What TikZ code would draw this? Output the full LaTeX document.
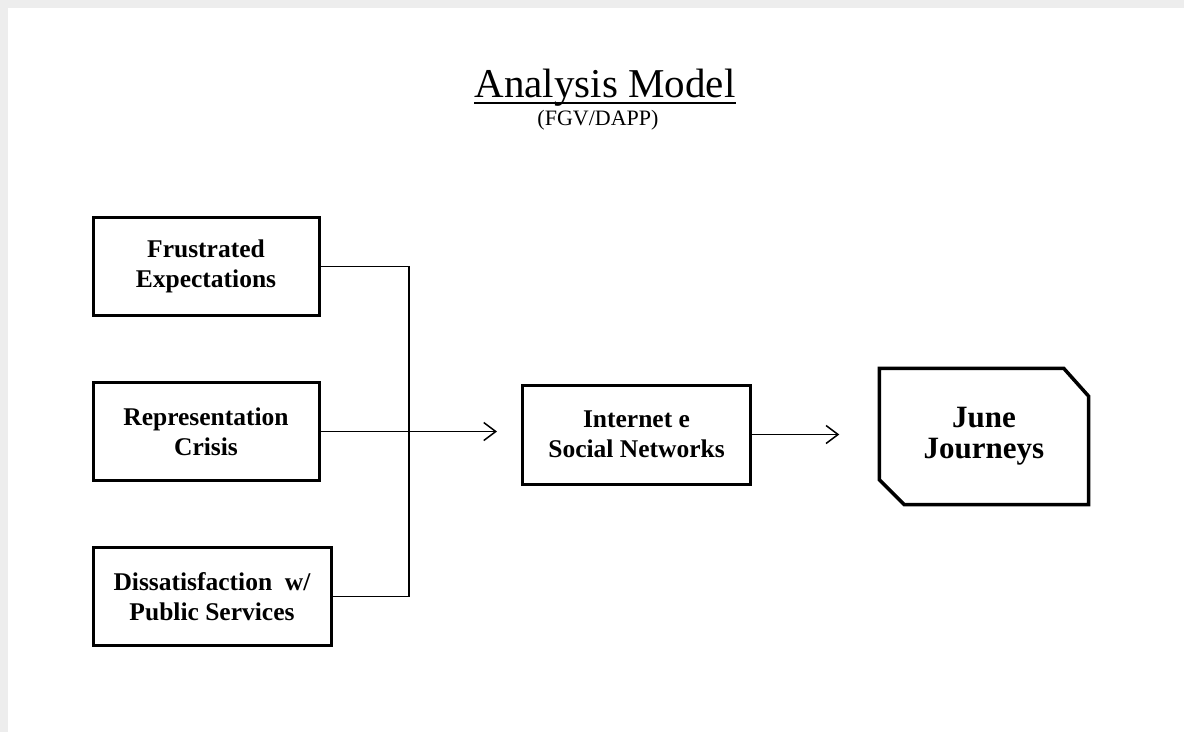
\documentclass[tikz,border=0pt]{standalone}
\usepackage{fontspec}
\setmainfont{Liberation Serif}
\usetikzlibrary{arrows.meta,calc}
\begin{document}
\begin{tikzpicture}[x=1pt,y=-1pt,
  box/.style={draw, line width=3pt, fill=white, inner sep=0pt, align=center,
    minimum height=98pt, font=\bfseries\fontsize{25.5}{30}\selectfont},
  link/.style={line width=1.5pt},
  arr/.style={link, -{Straight Barb[length=12pt,width=18pt]}}]
\useasboundingbox (0,0) rectangle (1184,732);
\fill[white] (0,0) rectangle (1184,732);
\fill[black!7] (0,0) rectangle (1184,8);
\fill[black!7] (0,0) rectangle (8,732);
% title
\node[anchor=base, inner sep=0pt, font=\fontsize{41}{48}\selectfont] (title) at (605,97) {Analysis Model};
\draw[line width=1.5pt] ($(title.base west)+(0,6)$) -- ($(title.base east)+(0,6)$);
\node[anchor=base, inner sep=0pt, font=\fontsize{22}{26}\selectfont] (src) at (598,125) {(FGV/DAPP)};
% boxes
\node[box, minimum width=226pt] (fe) at (206,266.5) {Frustrated\\Expectations};
\node[box, minimum width=226pt] (rc) at (206,431.5) {Representation\\Crisis};
\node[box, minimum width=238pt] (ds) at (212,596.5) {Dissatisfaction\ \ w/\\Public Services};
\node[box, minimum width=228pt, minimum height=99pt] (ic) at (636.5,434.5) {Internet e\\Social Networks};
\node[inner sep=0pt, align=center, minimum width=209pt, minimum height=136pt,
  font=\bfseries\fontsize{31}{31}\selectfont] (jj) at (984,436.5) {June\\Journeys};
\draw[line width=3.5pt, line join=miter]
  (jj.north west) -- ($(jj.north east)+(-25,0)$) -- ($(jj.north east)+(0,28)$)
  -- (jj.south east) -- ($(jj.south west)+(25,0)$) -- ($(jj.south west)+(0,-25)$) -- cycle;
% connectors
\coordinate (bus) at (409,0);
\draw[link] (fe.east) -- (fe.east -| bus) |- (ds.east);
\draw[arr, shorten >=24pt] (rc.east) -- (rc.east -| ic.west);
\draw[arr, shorten >=40pt] (ic.east) -- (ic.east -| jj.west);
\end{tikzpicture}
\end{document}
